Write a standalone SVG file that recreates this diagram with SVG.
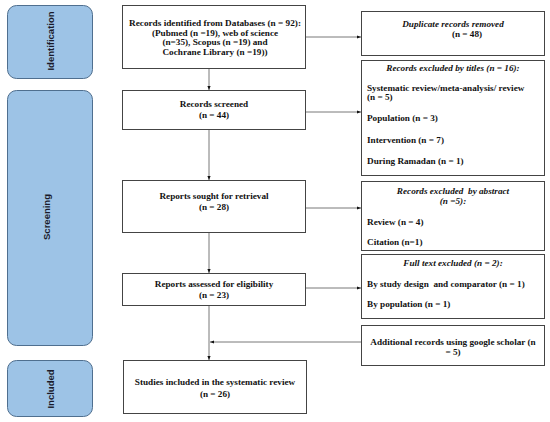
<svg xmlns="http://www.w3.org/2000/svg" width="550" height="422" viewBox="0 0 550 422">
<defs>
<style>
.phase{fill:#9dc3e6;stroke:#4f6f8f;stroke-width:1}
.box{fill:#fff;stroke:#444;stroke-width:1}
.pl{font-family:"Liberation Sans",Arial,sans-serif;font-weight:bold;font-size:9.5px;fill:#1a1a2a;text-anchor:middle}
.t{font-family:"Liberation Serif","Times New Roman",serif;font-weight:bold;font-size:9.2px;fill:#111}
.c{text-anchor:middle}
.i{font-style:italic}
.ln{stroke:#555;stroke-width:0.8;fill:none}
</style>
<marker id="ah" viewBox="0 0 10 10" refX="10" refY="5" markerWidth="5" markerHeight="5" orient="auto">
<path d="M0,1 L10,5 L0,9 z" fill="#111"/>
</marker>
</defs>
<rect width="550" height="422" fill="#fff"/>
<g id="phase-identification">
<rect class="phase" x="7.5" y="5.5" width="85" height="73" rx="9"/>
<text class="pl" transform="translate(53.5,41) rotate(-90)">Identification</text>
</g>
<g id="phase-screening">
<rect class="phase" x="7.5" y="90.5" width="85" height="255" rx="9"/>
<text class="pl" transform="translate(50,217) rotate(-90)">Screening</text>
</g>
<g id="phase-included">
<rect class="phase" x="7.5" y="360.5" width="85" height="56" rx="9"/>
<text class="pl" transform="translate(53.5,389) rotate(-90)">Included</text>
</g>
<g id="connectors">
<line class="ln" x1="209" y1="68" x2="209" y2="90" marker-end="url(#ah)"/>
<line class="ln" x1="209" y1="129" x2="209" y2="180" marker-end="url(#ah)"/>
<line class="ln" x1="209" y1="232" x2="209" y2="273" marker-end="url(#ah)"/>
<line class="ln" x1="209" y1="305" x2="209" y2="360" marker-end="url(#ah)"/>
<line class="ln" x1="305" y1="37" x2="361" y2="37" marker-end="url(#ah)"/>
<line class="ln" x1="305" y1="112" x2="361" y2="112" marker-end="url(#ah)"/>
<line class="ln" x1="305" y1="208" x2="361" y2="208" marker-end="url(#ah)"/>
<line class="ln" x1="305" y1="288" x2="361" y2="288" marker-end="url(#ah)"/>
<line class="ln" x1="361" y1="342" x2="210" y2="342" marker-end="url(#ah)"/>
</g>
<g id="records-identified">
<rect class="box" x="122.5" y="5.5" width="183" height="63"/>
<text class="t c" x="215" y="26" textLength="172" lengthAdjust="spacingAndGlyphs">Records identified from Databases (n = 92):</text>
<text class="t c" x="215" y="35.5">(Pubmed (n =19),  web of science</text>
<text class="t c" x="215" y="45">(n=35), Scopus (n =19) and</text>
<text class="t c" x="215" y="54.5">Cochrane Library (n =19))</text>
</g>
<g id="records-screened">
<rect class="box" x="122.5" y="90.5" width="183" height="39"/>
<text class="t c" x="214" y="107">Records screened</text>
<text class="t c" x="214" y="118">(n = 44)</text>
</g>
<g id="reports-sought">
<rect class="box" x="122.5" y="180.5" width="183" height="52"/>
<text class="t c" x="214" y="199">Reports sought for retrieval</text>
<text class="t c" x="214" y="210">(n = 28)</text>
</g>
<g id="reports-assessed">
<rect class="box" x="122.5" y="273.5" width="183" height="32"/>
<text class="t c" x="214" y="287">Reports assessed for eligibility</text>
<text class="t c" x="214" y="298">(n = 23)</text>
</g>
<g id="studies-included">
<rect class="box" x="123.5" y="360.5" width="183" height="53"/>
<text class="t c" x="215" y="385">Studies included in the systematic review</text>
<text class="t c" x="215" y="397">(n = 26)</text>
</g>
<g id="duplicates">
<rect class="box" x="361.5" y="11.5" width="183" height="44"/>
<text class="t c i" x="453" y="27">Duplicate records removed</text>
<text class="t c" x="467" y="36.5">(n = 48)</text>
</g>
<g id="excluded-titles">
<rect class="box" x="361.5" y="60.5" width="183" height="115"/>
<text class="t c i" x="453" y="70.5">Records excluded by titles (n = 16):</text>
<text class="t" x="367" y="90.5">Systematic review/meta-analysis/ review</text>
<text class="t" x="367" y="100">(n = 5)</text>
<text class="t" x="367" y="120.5">Population (n = 3)</text>
<text class="t" x="367" y="142.5">Intervention (n = 7)</text>
<text class="t" x="367" y="164">During Ramadan (n = 1)</text>
</g>
<g id="excluded-abstract">
<rect class="box" x="361.5" y="181.5" width="183" height="69"/>
<text class="t c i" x="453" y="193.5" xml:space="preserve">Records excluded  by abstract</text>
<text class="t c i" x="453" y="203.5">(n =5):</text>
<text class="t" x="367" y="224.5">Review (n = 4)</text>
<text class="t" x="367" y="244.5">Citation (n=1)</text>
</g>
<g id="fulltext-excluded">
<rect class="box" x="361.5" y="254.5" width="183" height="64"/>
<text class="t c i" x="453" y="265.5">Full text excluded (n = 2):</text>
<text class="t" x="367" y="286.5" xml:space="preserve">By study design  and comparator (n = 1)</text>
<text class="t" x="367" y="306.5">By population (n = 1)</text>
</g>
<g id="additional-records">
<rect class="box" x="361.5" y="325.5" width="183" height="40"/>
<text class="t c" x="453" y="345">Additional records using google scholar (n</text>
<text class="t c" x="453" y="355">= 5)</text>
</g>
</svg>
